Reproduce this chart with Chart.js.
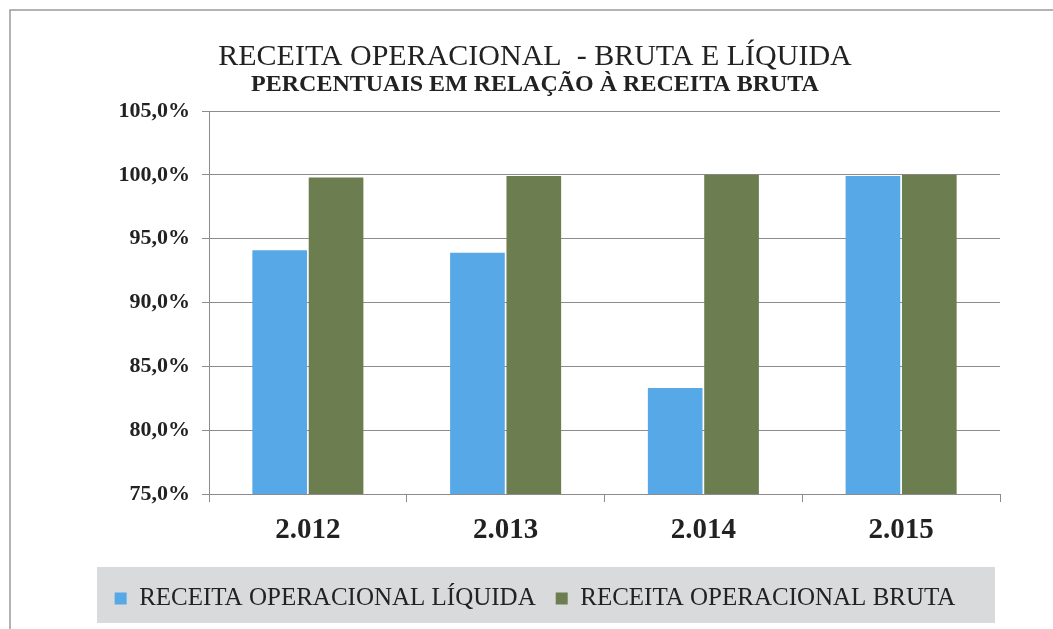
<!DOCTYPE html>
<html>
<head>
<meta charset="utf-8">
<script src="https://cdn.jsdelivr.net/npm/chart.js@4/dist/chart.umd.min.js"></script>
<style>
  html, body { margin: 0; padding: 0; background: #ffffff; }
  canvas { display: block; }
</style>
</head>
<body>
<canvas id="c" width="1053" height="629"></canvas>
<script>
const categories = ['2.012', '2.013', '2.014', '2.015'];
const liquida = [94.1, 93.9, 83.3, 99.9];
const bruta = [99.8, 99.9, 100.0, 100.0];
const seriesNames = ['RECEITA OPERACIONAL LÍQUIDA', 'RECEITA OPERACIONAL BRUTA'];
const yMin = 75, yMax = 105, yStep = 5;
const titleText = 'RECEITA OPERACIONAL  - BRUTA E LÍQUIDA';
const subtitleText = 'PERCENTUAIS EM RELAÇÃO À RECEITA BRUTA';

const SERIF = "'Liberation Serif', 'DejaVu Serif', serif";
const GRID = '#8c8c8c';

const framePlugin = {
  id: 'frame',
  beforeDraw(chart) {
    const ctx = chart.ctx;
    ctx.save();
    ctx.fillStyle = '#ffffff';
    ctx.fillRect(0, 0, chart.width, chart.height);
    ctx.strokeStyle = '#9a9a9a';
    ctx.lineWidth = 1.5;
    ctx.beginPath();
    ctx.moveTo(10, chart.height);
    ctx.lineTo(10, 10);
    ctx.lineTo(chart.width, 10);
    ctx.stroke();
    const lg = chart.legend;
    if (lg) {
      ctx.fillStyle = '#d9dadb';
      ctx.fillRect(97, lg.top + 1, 898, lg.bottom - lg.top + 1);
    }
    ctx.restore();
  }
};

new Chart(document.getElementById('c'), {
  type: 'bar',
  data: {
    labels: categories,
    datasets: [
      { label: seriesNames[0], data: liquida, backgroundColor: '#57a8e6', borderWidth: 0 },
      { label: seriesNames[1], data: bruta, backgroundColor: '#6c7d4f', borderWidth: 0 }
    ]
  },
  options: {
    responsive: false,
    animation: false,
    devicePixelRatio: 1,
    layout: { padding: { left: 70, right: 53, top: 0, bottom: 8 } },
    datasets: { bar: { categoryPercentage: 0.57, barPercentage: 0.97 } },
    plugins: {
      title: {
        display: true,
        text: titleText,
        color: '#222222',
        font: { family: SERIF, size: 30, weight: 'normal', lineHeight: 1.0 },
        padding: { top: 42, bottom: 0 }
      },
      subtitle: {
        display: true,
        text: subtitleText,
        color: '#222222',
        font: { family: SERIF, size: 24, weight: 'bold', lineHeight: 1.1 },
        padding: { top: 0, bottom: 12.6 }
      },
      legend: {
        display: true,
        position: 'bottom',
        labels: {
          color: '#222222',
          font: { family: SERIF, size: 25 },
          boxWidth: 12,
          boxHeight: 12,
          padding: 20
        }
      },
      tooltip: { enabled: false }
    },
    scales: {
      x: {
        afterFit(scale) { scale.height = 72; },
        grid: { display: true, drawOnChartArea: false, drawTicks: true, tickLength: 8, offset: true, color: GRID },
        border: { display: true, color: GRID, width: 1 },
        ticks: { color: '#222222', padding: 11, font: { family: SERIF, size: 29, weight: 'bold' } }
      },
      y: {
        min: yMin,
        max: yMax,
        afterFit(scale) { scale.width = 139; },
        grid: { color: GRID, tickLength: 7, drawTicks: true },
        border: { display: true, color: GRID, width: 1 },
        ticks: {
          stepSize: yStep,
          color: '#222222',
          padding: 12,
          font: { family: SERIF, size: 22, weight: 'bold' },
          callback: v => v.toFixed(1).replace('.', ',') + '%'
        }
      }
    }
  },
  plugins: [framePlugin]
});
</script>
</body>
</html>
